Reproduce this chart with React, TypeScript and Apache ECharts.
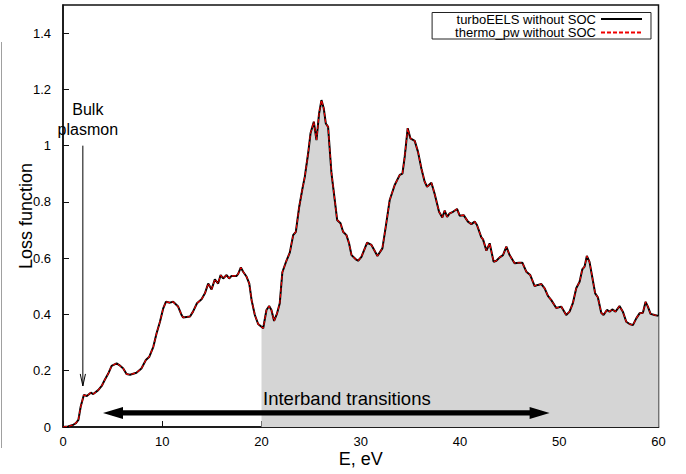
import React, { useEffect, useRef } from "react";
import * as echarts from "echarts";

// Energy grid (eV)
const energy = [
  0.0, 0.5, 1.0, 1.3, 1.55, 1.78, 2.1, 2.4, 2.8, 3.05, 3.55, 3.9, 4.2, 4.56, 4.9, 5.4, 5.67, 6.07, 6.4, 6.75,
  7.4, 7.9, 8.35, 8.7, 9.1, 9.43, 9.77, 10.1, 10.37, 10.77, 11.1, 11.6, 11.95, 12.1, 12.8, 13.1, 13.5, 13.96,
  14.3, 14.63, 14.97, 15.3, 15.63, 15.88, 16.14, 16.48, 16.74, 16.98, 17.49, 17.65, 17.92, 18.15, 18.5, 18.77,
  19.0, 19.33, 19.66, 19.9, 20.0, 20.17, 20.5, 20.77, 21.0, 21.27, 21.57, 21.84, 22.1, 22.5, 22.85, 23.19, 23.46,
  23.8, 24.13, 24.36, 24.7, 24.94, 25.27, 25.54, 25.8, 26.04, 26.27, 26.48, 26.71, 27.05, 27.38, 27.62, 27.96,
  28.22, 28.56, 28.82, 29.07, 29.5, 29.73, 30.07, 30.64, 31.08, 31.68, 32.18, 32.52, 32.92, 33.42, 33.93, 34.2,
  34.43, 34.73, 35.0, 35.44, 35.77, 36.11, 36.44, 36.68, 37.12, 37.45, 37.89, 38.22, 38.46, 38.7, 38.96, 39.3,
  39.7, 39.97, 40.37, 40.8, 41.15, 41.48, 41.71, 42.15, 42.32, 42.66, 42.99, 43.39, 43.66, 44.0, 44.33, 44.67,
  45.0, 45.5, 45.94, 46.28, 46.68, 47.08, 47.52, 47.85, 48.2, 48.53, 48.86, 49.2, 49.7, 50.2, 50.7, 51.04, 51.37,
  51.71, 52.05, 52.32, 52.55, 52.78, 53.05, 53.32, 53.62, 53.89, 54.23, 54.46, 54.8, 55.07, 55.34, 55.67, 56.07,
  56.41, 56.75, 57.09, 57.42, 57.76, 58.09, 58.43, 58.7, 58.93, 59.2, 59.6, 60.0,
];

// Loss function, turboEELS without SOC
const lossTurboEels = [
  0.0, 0.002, 0.007, 0.014, 0.025, 0.072, 0.114, 0.11, 0.122, 0.117, 0.131, 0.146, 0.167, 0.19, 0.217, 0.226,
  0.22, 0.208, 0.188, 0.186, 0.193, 0.208, 0.238, 0.25, 0.285, 0.333, 0.374, 0.422, 0.445, 0.442, 0.445, 0.428,
  0.398, 0.389, 0.393, 0.41, 0.44, 0.454, 0.475, 0.51, 0.489, 0.525, 0.51, 0.54, 0.528, 0.54, 0.528, 0.537,
  0.537, 0.544, 0.567, 0.552, 0.534, 0.51, 0.451, 0.398, 0.366, 0.359, 0.356, 0.351, 0.416, 0.43, 0.416, 0.377,
  0.404, 0.44, 0.55, 0.59, 0.62, 0.682, 0.694, 0.783, 0.848, 0.889, 0.973, 1.044, 1.085, 1.02, 1.114, 1.162,
  1.133, 1.079, 1.067, 0.902, 0.807, 0.736, 0.724, 0.694, 0.682, 0.653, 0.611, 0.596, 0.591, 0.605, 0.655,
  0.647, 0.608, 0.635, 0.712, 0.807, 0.86, 0.896, 0.901, 0.961, 1.062, 1.026, 1.017, 0.978, 0.919, 0.872,
  0.854, 0.868, 0.828, 0.765, 0.745, 0.769, 0.747, 0.759, 0.765, 0.775, 0.751, 0.753, 0.73, 0.721, 0.73,
  0.718, 0.674, 0.667, 0.627, 0.653, 0.587, 0.591, 0.603, 0.611, 0.641, 0.611, 0.582, 0.584, 0.584, 0.552,
  0.54, 0.501, 0.505, 0.508, 0.493, 0.466, 0.451, 0.423, 0.428, 0.398, 0.41, 0.44, 0.493, 0.516, 0.56, 0.57,
  0.608, 0.587, 0.534, 0.475, 0.461, 0.406, 0.398, 0.416, 0.41, 0.418, 0.41, 0.43, 0.41, 0.374, 0.366, 0.362,
  0.386, 0.404, 0.406, 0.445, 0.428, 0.402, 0.398, 0.395,
];

// Loss function, thermo_pw without SOC (coincides with turboEELS in the picture)
const lossThermoPw = [...lossTurboEels];

const seriesNames = ["turboEELS without SOC", "thermo_pw without SOC"];
const interbandStart = 20; // eV, start of the shaded region

const xTicks = [0, 10, 20, 30, 40, 50, 60];
const yTicks = [0, 0.2, 0.4, 0.6, 0.8, 1.0, 1.2, 1.4];
const yMax = 1.5;

// Annotations in data coordinates
const bulkArrow = [[2.0, 1.0], [2.0, 0.146]];
const bulkLabelLines = ["Bulk", "plasmon"];
const bulkLabelPos = [[2.5, 1.13], [2.5, 1.058]];
const interbandArrow = [[4.03, 0.05], [49.03, 0.05]];
const interbandLabel = "Interband transitions";
const interbandLabelPos = [28.6, 0.103];

const FONT = "'Liberation Sans', Arial, Helvetica, sans-serif";

export default function App() {
  const ref = useRef<HTMLDivElement>(null);

  useEffect(() => {
    if (!ref.current) return;
    const chart = echarts.init(ref.current, undefined, { renderer: "svg" });
    const pairsTurbo = energy.map((e, i) => [e, lossTurboEels[i]]);
    const pairsThermo = energy.map((e, i) => [e, lossThermoPw[i]]);
    const shaded = pairsTurbo.filter((p) => p[0] >= interbandStart);

    chart.setOption({
      animation: false,
      backgroundColor: "#ffffff",
      textStyle: { fontFamily: FONT },
      grid: {
        left: 63,
        right: 27.5,
        top: 5,
        bottom: 47,
        show: true,
        borderColor: "#111",
        borderWidth: 1.5,
        backgroundColor: "transparent",
      },
      legend: {
        data: seriesNames,
        orient: "vertical",
        align: "right",
        right: 35,
        top: 12.5,
        itemWidth: 41,
        itemHeight: 8,
        itemGap: 0.5,
        padding: [0, 8, 0, 23],
        borderColor: "#222",
        borderWidth: 1,
        backgroundColor: "#fff",
        itemStyle: { opacity: 0 },
        textStyle: { fontFamily: FONT, fontSize: 13, color: "#000", lineHeight: 13 },
      },
      xAxis: {
        type: "value",
        min: xTicks[0],
        max: xTicks[xTicks.length - 1],
        interval: xTicks[1] - xTicks[0],
        name: "E, eV",
        nameLocation: "middle",
        nameGap: 23,
        nameMoveOverlap: false,
        nameTextStyle: { fontFamily: FONT, fontSize: 18, color: "#000" },
        axisLine: { lineStyle: { color: "#111", width: 1.5 } },
        axisTick: { inside: true, length: 6, lineStyle: { color: "#111", width: 1 } },
        axisLabel: { fontFamily: FONT, fontSize: 13, color: "#000", margin: 8 },
        splitLine: { show: false },
      },
      yAxis: {
        type: "value",
        min: yTicks[0],
        max: yMax,
        interval: yTicks[1] - yTicks[0],
        name: "Loss function",
        nameLocation: "middle",
        nameGap: 28,
        nameMoveOverlap: false,
        nameTextStyle: { fontFamily: FONT, fontSize: 18, color: "#000" },
        axisLine: { lineStyle: { color: "#111", width: 1.5 } },
        axisTick: { inside: true, length: 6, lineStyle: { color: "#111", width: 1 } },
        axisLabel: {
          fontFamily: FONT,
          fontSize: 13,
          color: "#000",
          margin: 12,
          showMaxLabel: false,
          formatter: (v: number) => String(Math.round(v * 10) / 10),
        },
        splitLine: { show: false },
      },
      series: [
        {
          name: "shade",
          type: "line",
          data: shaded,
          symbol: "none",
          silent: true,
          lineStyle: { width: 0 },
          areaStyle: { color: "#d5d5d5", opacity: 1 },
          z: 1,
        },
        {
          name: seriesNames[0],
          type: "line",
          data: pairsTurbo,
          symbol: "none",
          lineStyle: { color: "#000", width: 2 },
          itemStyle: { color: "#000" },
          z: 3,
        },
        {
          name: seriesNames[1],
          type: "line",
          data: pairsThermo,
          symbol: "none",
          lineStyle: { color: "#f00000", width: 1.1, type: [4, 2] },
          itemStyle: { color: "#f00000" },
          z: 4,
        },
      ],
    });

    const px = (p: number[]) => chart.convertToPixel({ gridIndex: 0 }, p) as number[];
    const a0 = px(bulkArrow[0]);
    const a1 = px(bulkArrow[1]);
    const l0 = px(interbandArrow[0]);
    const l1 = px(interbandArrow[1]);
    const h = 20, w = 6, s = 2.6;
    const y = l0[1];
    const thick = [
      [l0[0], y], [l0[0] + h, y - w], [l0[0] + h, y - s], [l1[0] - h, y - s], [l1[0] - h, y - w],
      [l1[0], y], [l1[0] - h, y + w], [l1[0] - h, y + s], [l0[0] + h, y + s], [l0[0] + h, y + w],
    ];
    const bl = bulkLabelPos.map(px);
    const il = px(interbandLabelPos);

    chart.setOption({
      graphic: [
        { type: "line", shape: { x1: 1.5, y1: 42, x2: 1.5, y2: 448 }, style: { stroke: "#a0a0a0", lineWidth: 1 }, silent: true },
        { type: "line", shape: { x1: a0[0], y1: a0[1], x2: a1[0], y2: a1[1] }, style: { stroke: "#000", lineWidth: 1 }, z: 10 },
        {
          type: "polyline",
          shape: { points: [[a1[0] - 2.6, a1[1] - 12], [a1[0], a1[1]], [a1[0] + 2.6, a1[1] - 12]] },
          style: { stroke: "#000", lineWidth: 1, fill: null },
          z: 10,
        },
        { type: "polygon", shape: { points: thick }, style: { fill: "#000" }, z: 10 },
        ...bulkLabelLines.map((t, i) => ({
          type: "text",
          x: bl[i][0],
          y: bl[i][1],
          style: { text: t, fill: "#000", font: `16px ${FONT}`, align: "center", verticalAlign: "middle" },
          z: 10,
        })),
        {
          type: "text",
          x: il[0],
          y: il[1],
          style: { text: interbandLabel, fill: "#000", font: `18.5px ${FONT}`, align: "center", verticalAlign: "middle" },
          z: 10,
        },
      ],
    });

    return () => chart.dispose();
  }, []);

  return (
    <div
      ref={ref}
      style={{ position: "fixed", left: 0, top: 0, width: 686, height: 474, background: "#fff" }}
    />
  );
}
